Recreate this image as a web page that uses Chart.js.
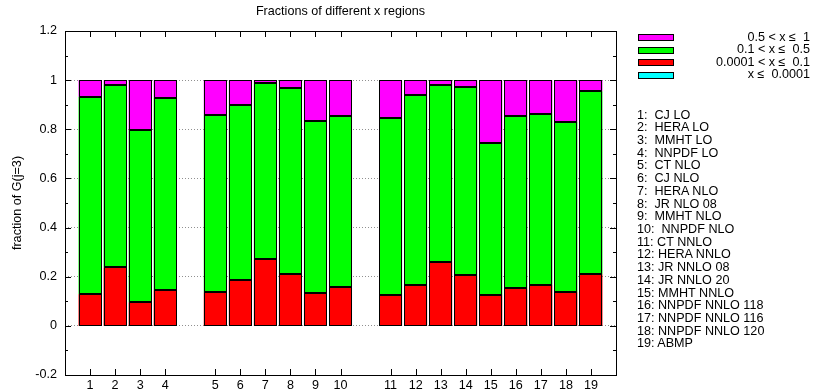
<!DOCTYPE html>
<html>
<head>
<meta charset="utf-8">
<script src="https://cdn.jsdelivr.net/npm/chart.js@4.4.1/dist/chart.umd.min.js"></script>
<style>
  html, body { margin: 0; padding: 0; background: #fff; }
  #wrap { position: relative; width: 813px; height: 392px; font-family: "Liberation Sans", Arial, sans-serif; font-size: 12.6px; color: #000; }
  #chart { position: absolute; left: 0; top: 0; }
  #key { position: absolute; left: 638px; top: 31px; width: 172px; }
  .key-row { position: relative; height: 12.6px; }
  .key-sw { position: absolute; left: 0; top: 3px; width: 34px; height: 5px; border: 1px solid #000; }
  .key-txt { position: absolute; right: 0; top: -1.5px; white-space: pre; line-height: 14px; }
  #names { position: absolute; left: 637px; top: 108.5px; white-space: pre; line-height: 12.72px; }
</style>
</head>
<body>
<div id="wrap">
  <canvas id="chart" width="813" height="392"></canvas>
  <div id="key"></div>
  <div id="names"></div>
</div>
<script>
const chartTitle = "Fractions of different x regions";
const yTitle = "fraction of G(j=3)";

const pdfSets = [
  "CJ LO", "HERA LO", "MMHT LO", "NNPDF LO",
  "CT NLO", "CJ NLO", "HERA NLO", "JR NLO 08", "MMHT NLO", "NNPDF NLO",
  "CT NNLO", "HERA NNLO", "JR NNLO 08", "JR NNLO 20", "MMHT NNLO",
  "NNPDF NNLO 118", "NNPDF NNLO 116", "NNPDF NNLO 120", "ABMP"
];
const barLabels = pdfSets.map((_, i) => String(i + 1));
const groupSizes = [4, 6, 9];

// fractions per x region, bottom to top of each bar
const fracBelow1e4 = [0, 0, 0, 0, 0, 0, 0, 0, 0, 0, 0, 0, 0, 0, 0, 0, 0, 0, 0];
const frac1e4to01 = [0.129, 0.238, 0.096, 0.145, 0.136, 0.186, 0.271, 0.210, 0.133, 0.157,
                     0.126, 0.165, 0.260, 0.205, 0.126, 0.153, 0.167, 0.137, 0.210];
const frac01to05 = [0.803, 0.744, 0.703, 0.783, 0.724, 0.711, 0.719, 0.760, 0.700, 0.699,
                    0.718, 0.773, 0.722, 0.769, 0.617, 0.702, 0.697, 0.694, 0.745];
const frac05to1 = [0.068, 0.018, 0.201, 0.072, 0.140, 0.103, 0.010, 0.030, 0.167, 0.144,
                   0.156, 0.062, 0.018, 0.026, 0.257, 0.145, 0.136, 0.169, 0.045];

const regions = [
  { label: "x \u2264  0.0001", color: "#00ffff", values: fracBelow1e4 },
  { label: "0.0001 < x \u2264  0.1", color: "#ff0000", values: frac1e4to01 },
  { label: "0.1 < x \u2264  0.5", color: "#00ff00", values: frac01to05 },
  { label: "0.5 < x \u2264  1", color: "#ff00ff", values: frac05to1 },
];

const FONT = '"Liberation Sans", Arial, sans-serif';
const FSIZE = 12.6;

// one empty slot before, between and after the groups
const toSlots = (arr, blank) => {
  const out = [blank];
  let k = 0;
  groupSizes.forEach((n) => {
    for (let i = 0; i < n; i++) out.push(arr[k++]);
    out.push(blank);
  });
  return out;
};
const slotLabels = toSlots(barLabels, "");

const frame = {
  id: "frame",
  afterDatasetsDraw(chart) {
    const { ctx, chartArea: a, scales } = chart;
    const ys = scales.y, xs = scales.x;
    ctx.save();
    ctx.strokeStyle = "#000";
    ctx.lineWidth = 1;

    // crisp outlines round every bar segment
    chart.data.datasets.forEach((ds, di) => {
      chart.getDatasetMeta(di).data.forEach((bar, i) => {
        if (ds.data[i] === null) return;
        const p = bar.getProps(["x", "y", "base", "width"], true);
        const top = Math.round(Math.min(p.y, p.base));
        const bot = Math.round(Math.max(p.y, p.base));
        if (bot - top < 1) return;
        const l = Math.round(p.x - p.width / 2);
        const r = Math.round(p.x + p.width / 2);
        ctx.strokeRect(l + 0.5, top + 0.5, r - l - 1, bot - top - 1);
      });
    });

    ctx.beginPath();
    const ticks = ys.ticks.map((t) => t.value);
    ticks.forEach((v, i) => {
      const py = Math.round(ys.getPixelForValue(v)) + 0.5;
      ctx.moveTo(a.left, py); ctx.lineTo(a.left + 6, py);
      ctx.moveTo(a.right, py); ctx.lineTo(a.right - 6, py);
      if (i < ticks.length - 1) {
        const pm = Math.round(ys.getPixelForValue((v + ticks[i + 1]) / 2)) + 0.5;
        ctx.moveTo(a.left, pm); ctx.lineTo(a.left + 3, pm);
        ctx.moveTo(a.right, pm); ctx.lineTo(a.right - 3, pm);
      }
    });
    slotLabels.forEach((lab, i) => {
      if (!lab) return;
      const px = Math.round(xs.getPixelForValue(i)) + 0.5;
      ctx.moveTo(px, a.bottom); ctx.lineTo(px, a.bottom - 6);
      ctx.moveTo(px, a.top); ctx.lineTo(px, a.top + 6);
    });
    ctx.stroke();
    ctx.strokeRect(Math.round(a.left) + 0.5, Math.round(a.top) + 0.5,
                   Math.round(a.right - a.left), Math.round(a.bottom - a.top));
    ctx.fillStyle = "#000";
    ctx.font = `${FSIZE}px ${FONT}`;
    ctx.textAlign = "center";
    ctx.textBaseline = "middle";
    ctx.fillText(chartTitle, (a.left + a.right) / 2, 12);
    ctx.restore();
  },
};

const chart = new Chart(document.getElementById("chart"), {
  type: "bar",
  data: {
    labels: slotLabels,
    datasets: regions.map((r) => ({
      label: r.label,
      data: toSlots(r.values, null),
      backgroundColor: r.color,
      borderWidth: 0,
      inflateAmount: 0,
      categoryPercentage: 1,
      barPercentage: 0.92,
    })),
  },
  options: {
    responsive: false,
    devicePixelRatio: 1,
    animation: false,
    layout: { padding: { top: 31, right: 197, left: 0, bottom: 0 } },
    plugins: { legend: { display: false }, tooltip: { enabled: false } },
    scales: {
      x: {
        stacked: true,
        offset: false,
        grid: { display: false, drawTicks: false },
        border: { display: false },
        ticks: {
          autoSkip: false, maxRotation: 0, padding: 3, color: "#000",
          font: { family: FONT, size: FSIZE },
        },
        afterFit: (s) => { s.height = 17; },
      },
      y: {
        stacked: true,
        min: -0.2,
        max: 1.2,
        grid: { color: "#909090", drawTicks: false },
        border: { display: false, dash: [1, 2] },
        ticks: {
          stepSize: 0.2, padding: 8, color: "#000",
          font: { family: FONT, size: FSIZE },
          callback: (v) => String(+v.toFixed(1)),
        },
        title: {
          display: true, text: yTitle, color: "#000", padding: { top: 10, bottom: 0 },
          font: { family: FONT, size: FSIZE },
        },
        afterFit: (s) => { s.width = 65; },
      },
    },
  },
  plugins: [frame],
});

// key, top entry first as in the picture
const key = document.getElementById("key");
chart.data.datasets.slice().reverse().forEach((ds) => {
  const row = document.createElement("div");
  row.className = "key-row";
  row.innerHTML = `<div class="key-sw" style="background:${ds.backgroundColor}"></div><div class="key-txt">${ds.label}</div>`;
  key.appendChild(row);
});

document.getElementById("names").textContent = pdfSets
  .map((n, i) => `${i + 1}:${i < 10 ? "  " : " "}${n}`)
  .join("\n");
</script>
</body>
</html>
